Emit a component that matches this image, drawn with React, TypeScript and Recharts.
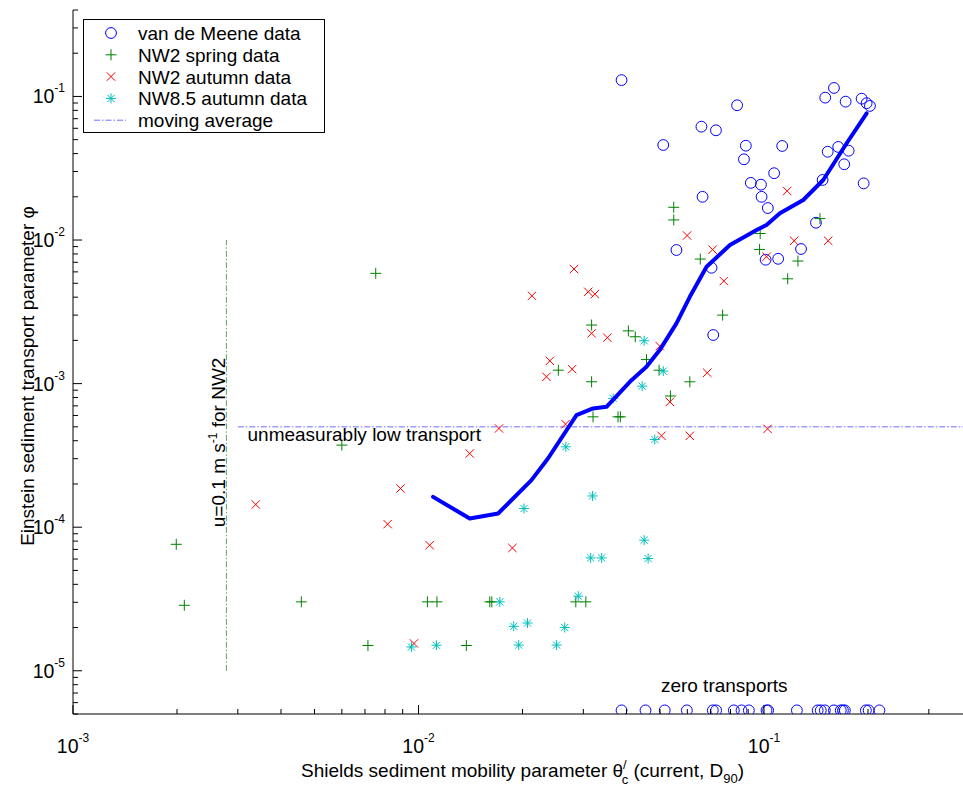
import React from 'react';
import { ScatterChart, Scatter, XAxis, YAxis, Legend } from 'recharts';

const FONT = 'Liberation Sans, Arial, Helvetica, sans-serif';

// van de Meene data (theta, phi)
const meeneTheta = [0.0387, 0.0511, 0.0659, 0.0726, 0.0836, 0.0886, 0.0875, 0.0664, 0.0916, 0.098, 0.0984, 0.1026, 0.107, 0.1129, 0.1504, 0.1594, 0.1723, 0.1917, 0.1982, 0.2026, 0.1529, 0.164, 0.1758, 0.1707, 0.1478, 0.1943, 0.1414, 0.0558, 0.128, 0.1011, 0.1099, 0.0705, 0.0713];
const meenePhi = [0.13, 0.0459, 0.0616, 0.0581, 0.0868, 0.0454, 0.0365, 0.02, 0.025, 0.0243, 0.02, 0.0167, 0.0292, 0.0452, 0.0981, 0.1146, 0.092, 0.0965, 0.0897, 0.0859, 0.0412, 0.0445, 0.0419, 0.0337, 0.0262, 0.0248, 0.0132, 0.00852, 0.00866, 0.00729, 0.0074, 0.00641, 0.00218];
// zero transports, drawn just above the axis
const meeneZeroTheta = [0.0387, 0.0454, 0.0516, 0.0598, 0.0711, 0.0727, 0.0818, 0.0861, 0.0904, 0.1017, 0.1028, 0.1245, 0.143, 0.146, 0.15, 0.1594, 0.1668, 0.1692, 0.1714, 0.1972, 0.2009, 0.2158];
const ZERO_PHI = 5.3e-6;

// NW2 spring
const springTheta = [0.0548, 0.0548, 0.0654, 0.0975, 0.0971, 0.1254, 0.1452, 0.1171, 0.0759, 0.0317, 0.0405, 0.0424, 0.0457, 0.0254, 0.0317, 0.0497, 0.061, 0.0536, 0.032, 0.0378, 0.0384, 0.00752, 0.006, 0.00199, 0.0021, 0.00458, 0.00714, 0.01061, 0.01131, 0.01376, 0.01608, 0.0163, 0.02853, 0.0305];
const springPhi = [0.0169, 0.0138, 0.00737, 0.0111, 0.0086, 0.00714, 0.0141, 0.00537, 0.003, 0.00256, 0.00233, 0.00212, 0.00147, 0.00124, 0.00103, 0.00124, 0.00103, 0.00082, 0.000587, 0.000587, 0.000587, 0.00586, 0.000373, 7.6e-5, 2.86e-5, 3.02e-5, 1.5e-5, 3.02e-5, 3.02e-5, 1.5e-5, 3.02e-5, 3.02e-5, 3.02e-5, 3.02e-5];

// NW2 autumn
const autumnTheta = [0.1167, 0.0599, 0.071, 0.1223, 0.1534, 0.1017, 0.0765, 0.0282, 0.0213, 0.031, 0.0324, 0.0317, 0.0352, 0.0499, 0.024, 0.02346, 0.02784, 0.0685, 0.0534, 0.02664, 0.0171, 0.0505, 0.061, 0.1024, 0.01407, 0.00887, 0.00338, 0.00814, 0.01077, 0.0187, 0.0097];
const autumnPhi = [0.02195, 0.01075, 0.00857, 0.00987, 0.00988, 0.00765, 0.00518, 0.00628, 0.00409, 0.00436, 0.0042, 0.00224, 0.00209, 0.001825, 0.00144, 0.001115, 0.00126, 0.00119, 0.000746, 0.000522, 0.000487, 0.000433, 0.000433, 0.000484, 0.000326, 0.000186, 0.000144, 0.000105, 7.49e-5, 7.17e-5, 1.55e-5];

// NW8.5 autumn
const nw85Theta = [0.045, 0.0511, 0.0444, 0.0366, 0.0267, 0.0483, 0.0319, 0.0202, 0.045, 0.0315, 0.0339, 0.0462, 0.029, 0.01719, 0.01887, 0.02068, 0.0265, 0.00954, 0.01127, 0.0195, 0.0251];
const nw85Phi = [0.001988, 0.001222, 0.00096, 0.000789, 0.000363, 0.000408, 0.000165, 0.000135, 8.12e-5, 6.11e-5, 6.11e-5, 6.05e-5, 3.31e-5, 3.02e-5, 2.04e-5, 2.15e-5, 2.0e-5, 1.465e-5, 1.506e-5, 1.51e-5, 1.51e-5];

// moving average
const avgTheta = [0.01102, 0.01407, 0.017, 0.02123, 0.0237, 0.02866, 0.032, 0.035, 0.0409, 0.0457, 0.0499, 0.0558, 0.061, 0.0682, 0.0797, 0.0952, 0.1017, 0.1112, 0.1299, 0.1484, 0.1735, 0.1982];
const avgPhi = [1.626e-4, 1.15e-4, 1.246e-4, 2.126e-4, 3.01e-4, 6.03e-4, 6.72e-4, 6.89e-4, 1.029e-3, 1.309e-3, 1.712e-3, 2.627e-3, 4.025e-3, 6.516e-3, 9.23e-3, 0.01174, 0.01272, 0.01535, 0.019, 0.02618, 0.04719, 0.0763];

// reference lines
const lowTheta = [0.003, 0.4];
const LOW_PHI = 5e-4;
const U_THETA = 0.00278;
const uPhi = [1e-5, 1e-2];

const xDomain = [0.001, 0.4];
const yDomain = [5e-6, 0.4];
const mantissas = [1, 2, 3, 4, 5, 6, 7, 8, 9];

const logTicks = (decades: number[], lo: number, hi: number) =>
  decades
    .flatMap((d) => mantissas.map((m) => +(m * d).toPrecision(3)))
    .filter((v) => v >= lo * 0.999 && v <= hi * 1.001);

const xTicks = logTicks([0.001, 0.01, 0.1], xDomain[0], xDomain[1]);
const yTicks = logTicks([1e-6, 1e-5, 1e-4, 1e-3, 1e-2, 1e-1], yDomain[0], yDomain[1]);

const zip = (xs: number[], ys: number[]) => xs.map((x, i) => ({ x, y: ys[i] }));

const meeneData = [...zip(meeneTheta, meenePhi), ...meeneZeroTheta.map((x) => ({ x, y: ZERO_PHI }))];
const springData = zip(springTheta, springPhi);
const autumnData = zip(autumnTheta, autumnPhi);
const nw85Data = zip(nw85Theta, nw85Phi);
const avgData = zip(avgTheta, avgPhi);
const lowData = lowTheta.map((x) => ({ x, y: LOW_PHI }));
const uData = uPhi.map((y) => ({ x: U_THETA, y }));

const BLUE = '#0000ff';
const GREEN = '#008000';
const RED = '#ff0000';
const CYAN = '#00bfbf';

const isMajor = (v: number) => {
  const l = Math.log10(v);
  return Math.abs(l - Math.round(l)) < 1e-6;
};
const expOf = (v: number) => String(Math.round(Math.log10(v)));

function Marker({ kind, cx, cy }: { kind: string; cx: number; cy: number }) {
  if (kind === 'o') return <circle cx={cx} cy={cy} r={5.4} fill="none" stroke={BLUE} strokeWidth={1} />;
  if (kind === '+') {
    const h = 5.5;
    return (
      <g stroke={GREEN} strokeWidth={1}>
        <line x1={cx - h} x2={cx + h} y1={cy} y2={cy} />
        <line x1={cx} x2={cx} y1={cy - h} y2={cy + h} />
      </g>
    );
  }
  if (kind === 'x') {
    const h = 4.2;
    return (
      <g stroke={RED} strokeWidth={1}>
        <line x1={cx - h} x2={cx + h} y1={cy - h} y2={cy + h} />
        <line x1={cx - h} x2={cx + h} y1={cy + h} y2={cy - h} />
      </g>
    );
  }
  const h = 5;
  const d = 3.6;
  return (
    <g stroke={CYAN} strokeWidth={1}>
      <line x1={cx - h} x2={cx + h} y1={cy} y2={cy} />
      <line x1={cx} x2={cx} y1={cy - h} y2={cy + h} />
      <line x1={cx - d} x2={cx + d} y1={cy - d} y2={cy + d} />
      <line x1={cx - d} x2={cx + d} y1={cy + d} y2={cy - d} />
    </g>
  );
}

const shapeOf = (kind: string) => (p: any) => <Marker kind={kind} cx={p.cx} cy={p.cy} />;

function BottomTick({ x, y, payload }: any) {
  const v = payload.value;
  const major = isMajor(v);
  return (
    <g>
      <line x1={x} x2={x} y1={y} y2={y - (major ? 9 : 5)} stroke="#000" />
      {major && (
        <text x={x} y={y + 39} textAnchor="middle" fontSize={19.5} fontFamily={FONT} fill="#000">
          10<tspan dy={-11} fontSize={12}>{expOf(v)}</tspan>
        </text>
      )}
    </g>
  );
}

function TopTick({ x, y, payload }: any) {
  const major = isMajor(payload.value);
  return <line x1={x} x2={x} y1={y} y2={y + (major ? 9 : 5)} stroke="#000" />;
}

function LeftTick({ x, y, payload }: any) {
  const v = payload.value;
  const major = isMajor(v);
  return (
    <g>
      <line x1={x} x2={x + (major ? 9 : 5)} y1={y} y2={y} stroke="#000" />
      {major && (
        <text x={x - 8} y={y + 7} textAnchor="end" fontSize={19.5} fontFamily={FONT} fill="#000">
          10<tspan dy={-11} fontSize={12}>{expOf(v)}</tspan>
        </text>
      )}
    </g>
  );
}

function RightTick({ x, y, payload }: any) {
  const major = isMajor(payload.value);
  return <line x1={x} x2={x - (major ? 9 : 5)} y1={y} y2={y} stroke="#000" />;
}

function XTitle(props: any) {
  const vb = props.viewBox || { x: 73, y: 714, width: 899 };
  return (
    <text x={vb.x + vb.width / 2} y={vb.y + 63} textAnchor="middle" fontSize={19} fontFamily={FONT} fill="#000">
      Shields sediment mobility parameter θ
      <tspan dy={-8} fontSize={13}>/</tspan>
      <tspan dx={-5} dy={15} fontSize={13}>c</tspan>
      <tspan dy={-7}> (current, D</tspan>
      <tspan dy={6} fontSize={13}>90</tspan>
      <tspan dy={-6}>)</tspan>
    </text>
  );
}

function YTitle(props: any) {
  const vb = props.viewBox || { x: 0, y: 10, height: 704 };
  const cx = 34;
  const cy = vb.y + vb.height / 2 + 14;
  return (
    <text x={cx} y={cy} transform={`rotate(-90 ${cx} ${cy})`} textAnchor="middle" fontSize={19} fontFamily={FONT} fill="#000">
      Einstein sediment transport parameter φ
    </text>
  );
}

const lowNote = [{ x: 0.0032, y: 3.97e-4 }];
const zeroNote = [{ x: 0.0503, y: 7.14e-6 }];
const uNote = [{ x: U_THETA, y: 1e-4 }];

const textStyle = { fontSize: 19, fontFamily: FONT, fill: '#000' };

const legendItems = [
  { kind: 'o', label: 'van de Meene data' },
  { kind: '+', label: 'NW2 spring data' },
  { kind: 'x', label: 'NW2 autumn data' },
  { kind: '*', label: 'NW8.5 autumn data' },
  { kind: '-.', label: 'moving average' },
];

function LegendBox() {
  return (
    <svg width={242} height={115} style={{ display: 'block' }}>
      <rect x={0.5} y={0.5} width={241} height={113} fill="#fff" stroke="#000" />
      {legendItems.map((it, i) => {
        const cy = 14 + i * 21.8;
        return (
          <g key={it.label}>
            {it.kind === '-.' ? (
              <line x1={11} x2={43} y1={cy} y2={cy} stroke="#6f6fff" strokeDasharray="6 2 1.5 2" />
            ) : (
              <Marker kind={it.kind} cx={28} cy={cy} />
            )}
            <text x={55} y={cy + 7} {...textStyle}>{it.label}</text>
          </g>
        );
      })}
    </svg>
  );
}

export default function App() {
  return (
    <div style={{ position: 'absolute', left: 0, top: 0, width: 963, height: 787, overflow: 'hidden', background: '#fff' }}>
      <ScatterChart width={973} height={787} margin={{ top: 10, right: 1, bottom: 0, left: 0 }} style={{ fontFamily: FONT }}>
        <XAxis
          xAxisId={0}
          type="number"
          dataKey="x"
          scale="log"
          domain={xDomain}
          allowDataOverflow
          ticks={xTicks}
          interval={0}
          tickSize={0}
          tickMargin={0}
          tickLine={false}
          tick={<BottomTick />}
          height={73}
          stroke="#000"
          label={<XTitle />}
        />
        <XAxis
          xAxisId="top"
          orientation="top"
          type="number"
          dataKey="x"
          scale="log"
          domain={xDomain}
          allowDataOverflow
          ticks={xTicks}
          interval={0}
          tickSize={0}
          tickMargin={0}
          tickLine={false}
          tick={<TopTick />}
          height={0}
          stroke="#000"
        />
        <YAxis
          yAxisId={0}
          type="number"
          dataKey="y"
          scale="log"
          domain={yDomain}
          allowDataOverflow
          ticks={yTicks}
          interval={0}
          tickSize={0}
          tickMargin={0}
          tickLine={false}
          tick={<LeftTick />}
          width={73}
          stroke="#000"
          label={<YTitle />}
        />
        <YAxis
          yAxisId="right"
          orientation="right"
          type="number"
          dataKey="y"
          scale="log"
          domain={yDomain}
          allowDataOverflow
          ticks={yTicks}
          interval={0}
          tickSize={0}
          tickMargin={0}
          tickLine={false}
          tick={<RightTick />}
          width={0}
          stroke="#000"
        />
        <Scatter data={lowData} isAnimationActive={false} shape={() => <g />} line={{ stroke: '#6f6fff', strokeWidth: 1, strokeDasharray: '6 2 1.5 2' }} />
        <Scatter data={uData} isAnimationActive={false} shape={() => <g />} line={{ stroke: '#5fa85f', strokeWidth: 1, strokeDasharray: '6 2 1.5 2' }} />
        <Scatter data={meeneData} isAnimationActive={false} shape={shapeOf('o')} />
        <Scatter data={springData} isAnimationActive={false} shape={shapeOf('+')} />
        <Scatter data={autumnData} isAnimationActive={false} shape={shapeOf('x')} />
        <Scatter data={nw85Data} isAnimationActive={false} shape={shapeOf('*')} />
        <Scatter data={avgData} isAnimationActive={false} shape={() => <g />} line={{ stroke: BLUE, strokeWidth: 4, strokeLinejoin: 'round', strokeLinecap: 'round' }} />
        <Scatter
          data={lowNote}
          isAnimationActive={false}
          shape={(p: any) => <text x={p.cx} y={p.cy} {...textStyle}>unmeasurably low transport</text>}
        />
        <Scatter
          data={zeroNote}
          isAnimationActive={false}
          shape={(p: any) => <text x={p.cx} y={p.cy} {...textStyle}>zero transports</text>}
        />
        <Scatter
          data={uNote}
          isAnimationActive={false}
          shape={(p: any) => {
            const bx = p.cx - 1.5;
            return (
              <text x={bx} y={p.cy} transform={`rotate(-90 ${bx} ${p.cy})`} {...textStyle}>
                u=0.1 m s<tspan dy={-8} fontSize={12}>-1</tspan>
                <tspan dy={8}> for NW2</tspan>
              </text>
            );
          }}
        />
        <Legend
          layout="vertical"
          align="center"
          verticalAlign="middle"
          wrapperStyle={{ left: 83, top: 19, width: 242, height: 115 }}
          content={() => <LegendBox />}
        />
      </ScatterChart>
    </div>
  );
}
